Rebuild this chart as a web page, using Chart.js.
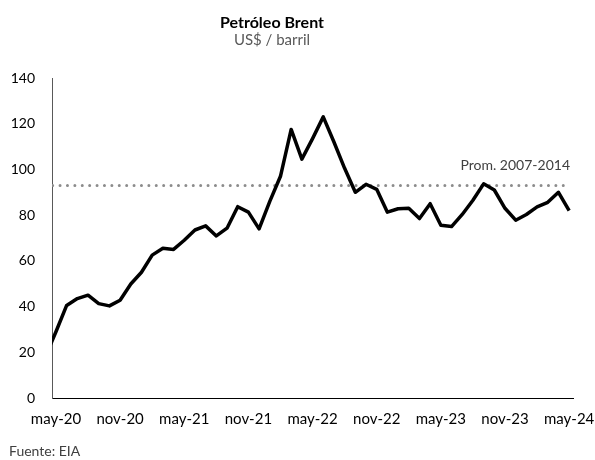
<!DOCTYPE html>
<html>
<head>
<meta charset="utf-8">
<script src="https://cdn.jsdelivr.net/npm/chart.js@4/dist/chart.umd.min.js"></script>
<style>
  html, body { margin: 0; padding: 0; background: #ffffff; }
  #wrap { width: 595px; height: 460px; position: relative; }
</style>
</head>
<body>
<div id="wrap"><canvas id="c" width="595" height="460"></canvas></div>
<script>
// Months (index 0 = abr-20, shown partly, clipped by the axis)
const months = [
  'abr-20','may-20','jun-20','jul-20','ago-20','sep-20','oct-20','nov-20','dic-20',
  'ene-21','feb-21','mar-21','abr-21','may-21','jun-21','jul-21','ago-21','sep-21','oct-21','nov-21','dic-21',
  'ene-22','feb-22','mar-22','abr-22','may-22','jun-22','jul-22','ago-22','sep-22','oct-22','nov-22','dic-22',
  'ene-23','feb-23','mar-23','abr-23','may-23','jun-23','jul-23','ago-23','sep-23','oct-23','nov-23','dic-23',
  'ene-24','feb-24','mar-24','abr-24','may-24'
];
// Brent, US$ / barril (monthly average)
const brent = [
  18, 29, 40.5, 43.5, 45, 41.3, 40.3, 42.8, 49.9,
  55, 62.5, 65.5, 65, 69, 73.5, 75.3, 70.9, 74.3, 83.7, 81.3, 74,
  86, 97, 117.5, 104.5, 113.5, 123, 112, 100.5, 90, 93.5, 91.3, 81.3,
  82.8, 83, 78.5, 85, 75.6, 75, 80.3, 86.5, 93.7, 91, 83, 77.8,
  80.3, 83.6, 85.6, 90, 82
];
// Average 2007-2014
const promValue = 93;
const promLabel = 'Prom. 2007-2014';
// Tick labels shown on the x axis
const tickLabels = ['may-20','nov-20','may-21','nov-21','may-22','nov-22','may-23','nov-23','may-24'];
const yTicks = [0, 20, 40, 60, 80, 100, 120, 140];

const FONT = 'Lato, "Open Sans", sans-serif';
const firstShown = months.indexOf('may-20');
const lastShown = months.indexOf('may-24');
const tickIdx = tickLabels.map(l => months.indexOf(l));

const linePts = brent.map((v, i) => ({ x: i, y: v }));
const promPts = [{ x: 0, y: promValue }, { x: lastShown, y: promValue }];

const textPlugin = {
  id: 'texts',
  afterDraw(chart) {
    const ctx = chart.ctx;
    ctx.save();
    ctx.textBaseline = 'alphabetic';
    ctx.textAlign = 'center';
    ctx.fillStyle = '#000000';
    ctx.font = 'bold 16px ' + FONT;
    ctx.fillText('Petróleo Brent', 272, 28);
    ctx.fillStyle = '#595959';
    ctx.font = '15px ' + FONT;
    ctx.fillText('US$ / barril', 272, 45);
    // average label
    const ys = chart.scales.y;
    ctx.textAlign = 'right';
    ctx.fillStyle = '#404040';
    ctx.font = '14px ' + FONT;
    ctx.fillText(promLabel, 570, ys.getPixelForValue(promValue) - 15);
    // source
    ctx.textAlign = 'left';
    ctx.fillStyle = '#404040';
    ctx.font = '14px ' + FONT;
    ctx.fillText('Fuente: EIA', 9, 456);
    ctx.restore();
  }
};

new Chart(document.getElementById('c'), {
  type: 'line',
  data: {
    datasets: [
      {
        label: promLabel,
        data: promPts,
        borderColor: '#8c8c8c',
        borderWidth: 3,
        borderDash: [0, 7.4],
        borderCapStyle: 'round',
        pointRadius: 0,
        fill: false,
        clip: { left: 0, top: 10, right: 10, bottom: 10 },
        order: 2
      },
      {
        label: 'Brent',
        data: linePts,
        borderColor: '#000000',
        borderWidth: 3.5,
        borderJoinStyle: 'round',
        pointRadius: 0,
        tension: 0,
        fill: false,
        clip: { left: 0, top: 10, right: 10, bottom: 10 },
        order: 1
      }
    ]
  },
  options: {
    responsive: false,
    animation: false,
    devicePixelRatio: 1,
    layout: { padding: { left: 0, right: 22, top: 78, bottom: 0 } },
    plugins: {
      legend: { display: false },
      title: { display: false },
      tooltip: { enabled: false }
    },
    scales: {
      x: {
        type: 'linear',
        min: firstShown - 0.37,
        max: lastShown + 0.36,
        afterBuildTicks(scale) { scale.ticks = tickIdx.map(v => ({ value: v })); },
        afterFit(scale) { scale.height = 62; scale.paddingLeft = 0; scale.paddingRight = 0; },
        grid: { display: false, drawTicks: false },
        border: { display: true, color: '#000000', width: 1 },
        ticks: {
          autoSkip: false,
          maxRotation: 0,
          padding: 12,
          color: '#000000',
          font: { family: FONT, size: 15 },
          callback: (v) => months[v] || ''
        }
      },
      y: {
        min: 0,
        max: 140,
        afterBuildTicks(scale) { scale.ticks = yTicks.map(v => ({ value: v })); },
        afterFit(scale) { scale.width = 52; scale.paddingTop = 0; scale.paddingBottom = 0; },
        grid: { display: false, drawTicks: false },
        border: { display: true, color: '#595959', width: 1 },
        ticks: {
          padding: 17,
          color: '#000000',
          font: { family: FONT, size: 14 }
        }
      }
    }
  },
  plugins: [textPlugin]
});
</script>
</body>
</html>
